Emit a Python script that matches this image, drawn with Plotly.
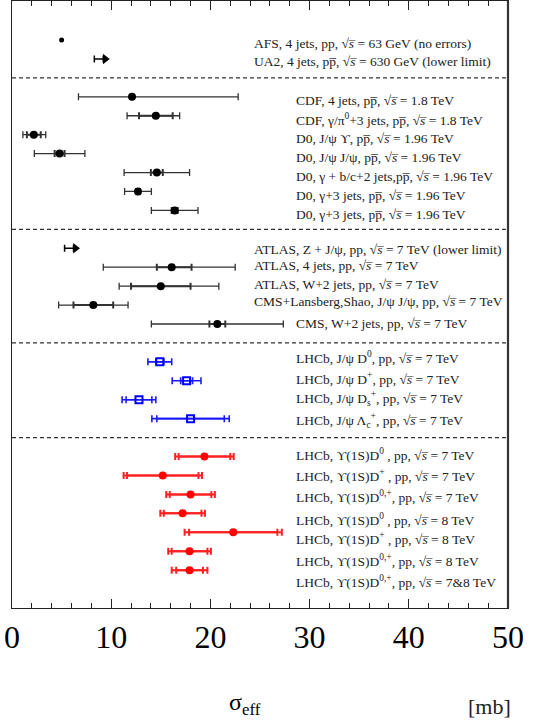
import plotly.graph_objects as go

OL = "\u0305"  # combining overline
PPB = "pp" + OL
RS = "√<i>s" + OL + "</i>"

# ---- data (top to bottom) ----
labels = [
    f"AFS, 4 jets, pp, {RS} = 63 GeV (no errors)",
    f"UA2, 4 jets, {PPB}, {RS} = 630 GeV (lower limit)",
    f"CDF, 4 jets, {PPB}, {RS} = 1.8 TeV",
    f"CDF, γ/π<sup>0</sup>+3 jets, {PPB}, {RS} = 1.8 TeV",
    f"D0, J/ψ ϒ, {PPB}, {RS} = 1.96 TeV",
    f"D0, J/ψ J/ψ, {PPB}, {RS} = 1.96 TeV",
    f"D0, γ + b/c+2 jets,{PPB}, {RS} = 1.96 TeV",
    f"D0, γ+3 jets, {PPB}, {RS} = 1.96 TeV",
    f"D0, γ+3 jets, {PPB}, {RS} = 1.96 TeV",
    f"ATLAS, Z + J/ψ, pp, {RS} = 7 TeV (lower limit)",
    f"ATLAS, 4 jets, pp, {RS} = 7 TeV",
    f"ATLAS, W+2 jets, pp, {RS} = 7 TeV",
    f"CMS+Lansberg,Shao, J/ψ J/ψ, pp, {RS} = 7 TeV",
    f"CMS, W+2 jets, pp, {RS} = 7 TeV",
    f"LHCb, J/ψ D<sup>0</sup>, pp, {RS} = 7 TeV",
    f"LHCb, J/ψ D<sup>+</sup>, pp, {RS} = 7 TeV",
    f"LHCb, J/ψ D<sub>s</sub><sup>+</sup>, pp, {RS} = 7 TeV",
    f"LHCb, J/ψ Λ<sub>c</sub><sup>+</sup>, pp, {RS} = 7 TeV",
    f"LHCb, ϒ(1S)D<sup>0</sup> , pp, {RS} = 7 TeV",
    f"LHCb, ϒ(1S)D<sup>+</sup> , pp, {RS} = 7 TeV",
    f"LHCb, ϒ(1S)D<sup>0,+</sup>, pp, {RS} = 7 TeV",
    f"LHCb, ϒ(1S)D<sup>0</sup> , pp, {RS} = 8 TeV",
    f"LHCb, ϒ(1S)D<sup>+</sup> , pp, {RS} = 8 TeV",
    f"LHCb, ϒ(1S)D<sup>0,+</sup>, pp, {RS} = 8 TeV",
    f"LHCb, ϒ(1S)D<sup>0,+</sup>, pp, {RS} = 7&8 TeV",
]
section_sizes = [2, 7, 5, 4, 7]
kind = ["plain", "limit"] + ["black"] * 7 + ["limit"] + ["black"] * 4 + ["blue"] * 4 + ["red"] * 7
sigma = [5.0, 8.3, 12.1, 14.5, 2.2, 4.8, 14.6, 12.7, 16.4,
         5.3, 16.1, 15.0, 8.2, 20.7,
         14.9, 17.6, 12.8, 18.0,
         19.4, 15.2, 18.0, 17.2, 22.3, 17.9, 17.9]
stat_minus = [0, 0, 0, 1.7, 0.7, 0.5, 0.6, 0.2, 0.3,
              0, 1.5, 3.0, 2.0, 0.8,
              0.4, 0.6, 1.3, 3.4,
              2.6, 3.6, 2.1, 1.9, 4.45, 1.8, 1.35]
stat_plus = [0, 0, 0, 1.7, 0.7, 0.5, 0.6, 0.2, 0.3,
             0, 2.0, 3.0, 2.0, 0.8,
             0.4, 0.6, 1.3, 3.4,
             2.6, 3.6, 2.1, 1.9, 4.45, 1.8, 1.35]
tot_minus = [0, 0, 5.4, 2.9, 1.1, 2.55, 3.3, 1.35, 2.35,
             0, 6.9, 4.2, 3.5, 6.65,
             1.2, 1.45, 1.7, 3.9,
             2.95, 3.95, 2.45, 2.25, 4.9, 2.15, 1.8]
tot_plus = [0, 0, 10.7, 2.4, 1.2, 2.55, 3.3, 1.35, 2.35,
            0, 6.4, 5.85, 3.5, 6.65,
            1.2, 1.45, 1.7, 3.9,
            2.95, 3.95, 2.45, 2.25, 4.9, 2.15, 1.8]

# ---- layout helpers (label placement, not data) ----
label_x = [24.2, 24.2] + [28.4] * 7 + [24.2] * 4 + [28.4] + [28.4] * 11
label_shift = [0.21, 0.16, 0.19, 0.21, 0.21, 0.19, 0.21, 0.21, 0.19,
               0.04, -0.1, -0.1, -0.19, -0.05,
               -0.23, -0.14, -0.07, 0.1,
               -0.09, 0.0, 0.1, 0.3, 0.33, 0.47, 0.62]

rows = []
seps = []
slot = 1
for k, n in enumerate(section_sizes):
    for _ in range(n):
        rows.append(slot)
        slot += 1
    if k < len(section_sizes) - 1:
        seps.append(slot)
        slot += 1

fig = go.Figure()

def idx(kinds):
    return [i for i, k in enumerate(kind) if k in kinds]

styles = {
    "black": dict(color="black", bar="#333333", ow=1.3, iw=2.0, sym="circle", size=8, lw=0),
    "blue": dict(color="#0000ff", bar="#1a1aff", ow=1.6, iw=1.6, sym="square-open", size=7, lw=2),
    "red": dict(color="#ff0000", bar="#ff2020", ow=2.0, iw=2.0, sym="circle", size=8, lw=0),
}
for key, st in styles.items():
    ii = idx([key])
    xs = [sigma[i] for i in ii]
    ys = [rows[i] for i in ii]
    fig.add_trace(go.Scatter(
        x=xs, y=ys, mode="markers",
        marker=dict(size=1, color="rgba(0,0,0,0)"),
        error_x=dict(type="data", symmetric=False,
                     array=[tot_plus[i] for i in ii],
                     arrayminus=[tot_minus[i] for i in ii],
                     color=st["bar"], thickness=st["ow"], width=3.5),
        showlegend=False, hoverinfo="skip"))
    fig.add_trace(go.Scatter(
        x=xs, y=ys, mode="markers",
        marker=dict(size=st["size"], color=st["color"], symbol=st["sym"],
                    line=dict(width=st["lw"], color=st["color"])),
        error_x=dict(type="data", symmetric=False,
                     array=[stat_plus[i] for i in ii],
                     arrayminus=[stat_minus[i] for i in ii],
                     color=st["bar"], thickness=st["iw"], width=3.5),
        showlegend=False))

# point without errors
ii = idx(["plain"])
fig.add_trace(go.Scatter(x=[sigma[i] for i in ii], y=[rows[i] for i in ii], mode="markers",
                         marker=dict(size=5, color="black"), showlegend=False))

# lower limits: cap + arrow
ii = idx(["limit"])
arm = 0.9
fig.add_trace(go.Scatter(
    x=[sigma[i] + arm / 2 for i in ii], y=[rows[i] for i in ii], mode="markers",
    marker=dict(size=1, color="rgba(0,0,0,0)"),
    error_x=dict(type="constant", value=arm / 2, color="black", thickness=1.5, width=3.5),
    showlegend=False, hoverinfo="skip"))
fig.add_trace(go.Scatter(
    x=[sigma[i] + 1.1 for i in ii], y=[rows[i] for i in ii], mode="markers",
    marker=dict(size=9, color="black", symbol="triangle-right"),
    showlegend=False))

# labels
for i, t in enumerate(labels):
    fig.add_annotation(x=label_x[i], y=rows[i] + label_shift[i], xref="x", yref="y",
                       text=t, showarrow=False, xanchor="left", yanchor="middle",
                       font=dict(family="Liberation Serif", size=13.5, color="#222"))

# separators
for s in seps:
    fig.add_shape(type="line", xref="paper", x0=0, x1=1, yref="y", y0=s, y1=s,
                  line=dict(color="#333", width=1.2, dash="4px,3px"))
fig.add_shape(type="line", xref="paper", x0=1, x1=1, yref="paper", y0=0, y1=1,
              line=dict(color="#333", width=2.2))

fig.add_annotation(x=0.47, y=-0.158, xref="paper", yref="paper", showarrow=False,
                   text="σ<sub>eff</sub>", xanchor="center", yanchor="middle",
                   font=dict(family="Liberation Serif", size=24, color="black"))
fig.add_annotation(x=1.01, y=-0.162, xref="paper", yref="paper", showarrow=False,
                   text="[mb]", xanchor="right", yanchor="middle",
                   font=dict(family="Liberation Serif", size=22, color="#222"))

fig.update_xaxes(range=[0, 50], dtick=10, tick0=0, ticks="inside", ticklen=9,
                 tickwidth=1, tickcolor="#222", showline=True, linecolor="#222",
                 linewidth=1.3, mirror="ticks", showgrid=False, zeroline=False,
                 minor=dict(dtick=2, ticks="inside", ticklen=5, tickcolor="#222"),
                 tickfont=dict(family="Liberation Serif", size=32, color="black"))
fig.update_yaxes(range=[31.0, -1.06], showticklabels=False, ticks="", showgrid=False,
                 zeroline=False, showline=True, linecolor="#222", linewidth=1.3,
                 mirror=True)
fig.update_layout(width=546, height=722, margin=dict(l=12, r=38, t=1, b=114),
                  plot_bgcolor="white", paper_bgcolor="white")
fig.write_html("out.html")
